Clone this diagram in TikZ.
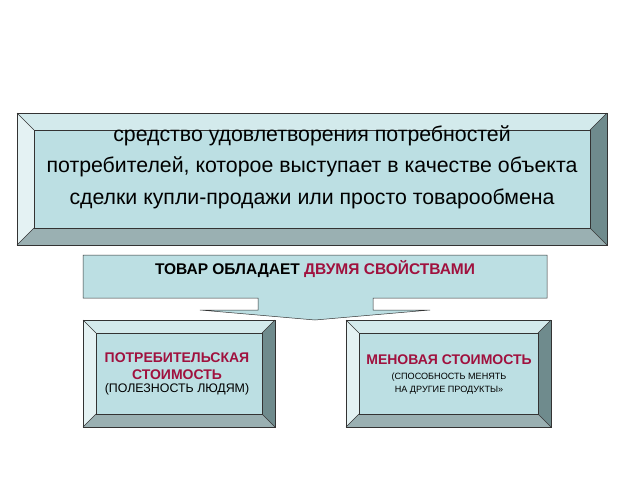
\documentclass[tikz,border=0pt]{standalone}
\usepackage{fontspec}
\setmainfont{Liberation Sans}
\usetikzlibrary{positioning}
\definecolor{face}{HTML}{BCDFE3}
\definecolor{bevtop}{HTML}{D3EAEC}
\definecolor{bevleft}{HTML}{E4F2F3}
\definecolor{bevright}{HTML}{6F8B8D}
\definecolor{bevbot}{HTML}{9AB0B2}
\definecolor{wine}{HTML}{A0113E}
% bevelled box: x1,y1,x2,y2,depth
\newcommand{\bevelbox}[5]{%
  \fill[bevtop] (#1,#2) -- (#3,#2) -- (#3-#5,#2+#5) -- (#1+#5,#2+#5) -- cycle;
  \fill[bevleft] (#1,#2) -- (#1+#5,#2+#5) -- (#1+#5,#4-#5) -- (#1,#4) -- cycle;
  \fill[bevright] (#3,#2) -- (#3,#4) -- (#3-#5,#4-#5) -- (#3-#5,#2+#5) -- cycle;
  \fill[bevbot] (#1,#4) -- (#3,#4) -- (#3-#5,#4-#5) -- (#1+#5,#4-#5) -- cycle;
  \fill[face] (#1+#5,#2+#5) rectangle (#3-#5,#4-#5);
  \draw[edge] (#1,#2) rectangle (#3,#4);
  \draw[edge] (#1+#5,#2+#5) rectangle (#3-#5,#4-#5);
  \draw[edge] (#1,#2) -- (#1+#5,#2+#5) (#3,#2) -- (#3-#5,#2+#5)
    (#1,#4) -- (#1+#5,#4-#5) (#3,#4) -- (#3-#5,#4-#5);}
\begin{document}
\begin{tikzpicture}[x=1pt,y=-1pt,
  edge/.style={draw=black!80, line width=0.5pt},
  big/.style={font=\fontsize{21.3}{31.5}\selectfont, align=center},
  caps/.style={font=\fontsize{14}{17}\selectfont\bfseries, align=center},
  tiny/.style={font=\fontsize{9.1}{13}\selectfont, align=center}]
\useasboundingbox[fill=white] (0,0) rectangle (640,480);

% upper box
\bevelbox{17}{113}{607}{245}{17}
\node[big] (def) at (312,167) {средство удовлетворения потребностей\\
  потребителей, которое выступает в качестве объекта\\
  сделки купли-продажи или просто товарообмена};

% callout
\draw[edge, fill=face] (83,255) -- (547,255) -- (547,298) -- (373,298) -- (373,310)
  -- (430,310) -- (315,320) -- (200,310) -- (258,310) -- (258,298) -- (83,298) -- cycle;
\node[caps, font=\fontsize{15.5}{18}\selectfont\bfseries] (head) at (315,269)
  {ТОВАР ОБЛАДАЕТ \textcolor{wine}{ДВУМЯ СВОЙСТВАМИ}};

% lower boxes
\bevelbox{83}{320}{275}{427}{13}
\bevelbox{346}{320}{551}{427}{13}
\node[caps, text=wine] (use) at (177,366) {ПОТРЕБИТЕЛЬСКАЯ\\СТОИМОСТЬ};
\node[font=\fontsize{12.4}{15}\selectfont, below=-3pt of use] (usenote) {(ПОЛЕЗНОСТЬ ЛЮДЯМ)};
\node[caps, text=wine] (exch) at (449,360) {МЕНОВАЯ СТОИМОСТЬ};
\node[tiny, below=1pt of exch] (exchnote) {(СПОСОБНОСТЬ МЕНЯТЬ\\НА ДРУГИЕ ПРОДУКТЫ»};
\end{tikzpicture}
\end{document}
